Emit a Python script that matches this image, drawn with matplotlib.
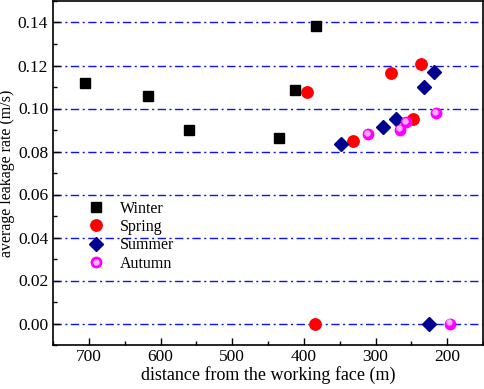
import matplotlib
matplotlib.use("Agg")
import matplotlib.pyplot as plt
import matplotlib.transforms as mtransforms
from matplotlib.lines import Line2D
from matplotlib.legend_handler import HandlerTuple
from matplotlib.ticker import MultipleLocator

plt.rcParams['font.family'] = ['Liberation Serif', 'DejaVu Serif']
plt.rcParams['mathtext.fontset'] = 'stix'

winter_x = [706, 618, 560, 435, 412, 383]
winter_y = [0.1118, 0.1059, 0.0898, 0.0862, 0.1087, 0.1385]
spring_x = [395, 384, 332, 278, 248, 237]
spring_y = [0.1078, 0.0, 0.0850, 0.1163, 0.0952, 0.1208]
summer_x = [348, 290, 271, 233, 225, 218]
summer_y = [0.0836, 0.0912, 0.0951, 0.1100, 0.0, 0.1172]
autumn_x = [310, 266, 257, 216, 196]
autumn_y = [0.0881, 0.0902, 0.0935, 0.0977, 0.0]

fig = plt.figure(figsize=(4.84, 3.89), dpi=100)
ax = fig.add_axes([53/484, 1 - 345/389, 430/484, 344/389])

ax.set_xlim(750, 150)
ax.set_ylim(-0.01, 0.15)
ax.xaxis.set_minor_locator(MultipleLocator(50))
ax.yaxis.set_minor_locator(MultipleLocator(0.01))
ax.set_yticks([0, 0.02, 0.04, 0.06, 0.08, 0.10, 0.12, 0.14])
ax.set_yticklabels(['0.00', '0.02', '0.04', '0.06', '0.08', '0.10', '0.12', '0.14'])
ax.set_xticks([700, 600, 500, 400, 300, 200])
ax.tick_params(axis='both', which='both', direction='in', top=False, right=False,
               labelsize=12.5)
ax.tick_params(axis='x', which='major', pad=3)
ax.tick_params(axis='both', which='major', length=5, width=1)
ax.tick_params(axis='both', which='minor', length=3, width=1)
for s in ax.spines.values():
    s.set_linewidth(1.2)

ax.grid(True, axis='y', which='major', color='#1010ff', linestyle=(0, (6, 2.5, 1.5, 2.5)), linewidth=1.0)
ax.set_axisbelow(True)

ax.plot(winter_x, winter_y, 's', color='black', markersize=7.2, linestyle='none', zorder=3)
ax.plot(spring_x, spring_y, 'o', color='#ff0000', markersize=8.2, linestyle='none', zorder=3)
ax.plot(summer_x, summer_y, 'D', color='#000090', markersize=7.5, linestyle='none', zorder=3)
ax.plot(autumn_x, autumn_y, 'o', color='#ff00ff', markersize=7.5, linestyle='none', zorder=3)
off = mtransforms.ScaledTranslation(-0.8/72, 0.8/72, fig.dpi_scale_trans)
ax.plot(autumn_x, autumn_y, 'o', color='#ffb0ff', markersize=3.5, linestyle='none', zorder=4,
        transform=ax.transData + off)

ax.set_xlabel('distance from the working face (m)', fontsize=13, labelpad=1)
ax.set_ylabel('average leakage rate (m/s)', fontsize=11.5)
ax.yaxis.set_label_coords(-0.088, 0.5)

h_w = Line2D([], [], marker='s', color='black', markersize=7.2, linestyle='none')
h_s = Line2D([], [], marker='o', color='#ff0000', markersize=8.2, linestyle='none')
h_su = Line2D([], [], marker='D', color='#000090', markersize=7.5, linestyle='none')
h_a1 = Line2D([], [], marker='o', color='#ff00ff', markersize=7.5, linestyle='none')
h_a2 = Line2D([], [], marker='o', color='#ffb0ff', markersize=3.5, linestyle='none')
leg = ax.legend([h_w, h_s, h_su, (h_a1, h_a2)], ['Winter', 'Spring', 'Summer', 'Autumn'],
                handler_map={tuple: HandlerTuple(ndivide=1, pad=0)},
                loc='upper left', bbox_to_anchor=(0.055, 0.452), frameon=False,
                fontsize=11.5, handlelength=1.0, handletextpad=1.0, labelspacing=0.15,
                borderpad=0.2)

fig.savefig('out.png', dpi=100)
